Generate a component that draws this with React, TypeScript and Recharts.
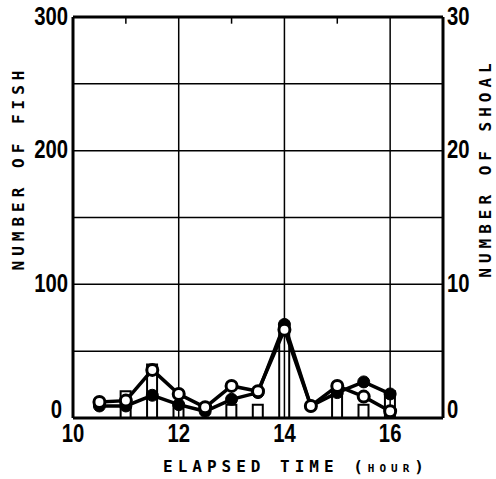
import React from "react";
import {
  ComposedChart,
  Bar,
  Line,
  XAxis,
  YAxis,
  ReferenceLine,
} from "recharts";

// half-hour sampling times
const hours = [10.5, 11, 11.5, 12, 12.5, 13, 13.5, 14, 14.5, 15, 15.5, 16];
// number of fish (open circles / filled circles), left axis
const fishOpen = [12, 13, 36, 18, 8, 24, 20, 66, 9, 24, 16, 5];
const fishFilled = [9, 9, 17, 10, 5, 14, 19, 70, 9, 19, 27, 18];
// number of shoals, right axis
const shoals = [0, 2, 4, 1, 0, 1, 1, 7, 0, 2, 1, 2];

const xTicks = [10, 12, 14, 16];
const fishTicks = [0, 100, 200, 300];
const shoalTicks = [0, 10, 20, 30];
const gridY = [50, 100, 150, 200, 250];
const gridX = [12, 14, 16];
const topTicks = [11, 13, 15];

const rows = hours.map((h, i) => ({
  hour: h,
  open: fishOpen[i],
  filled: fishFilled[i],
  shoal: shoals[i],
}));

// condensed bold numbers, squeezed horizontally; the "0" sits a bit higher
const makeTick = (dy: string, zeroLift = 0, zeroShift = 0) => (props: any) => {
  const { payload, textAnchor } = props;
  const isZero = payload.value === 0;
  const x = props.x + (isZero ? zeroShift : 0);
  const y = props.y - (isZero ? zeroLift : 0);
  return (
    <text
      x={x}
      y={y}
      dy={dy}
      textAnchor={textAnchor}
      fontFamily="'Liberation Sans', Arial, sans-serif"
      fontWeight={700}
      fontSize={26}
      fill="#000"
      transform={`translate(${x} ${y}) scale(0.78 1) translate(${-x} ${-y})`}
    >
      {payload.value}
    </text>
  );
};

const titleStyle: React.CSSProperties = {
  position: "absolute",
  fontFamily: "'DejaVu Sans Mono', monospace",
  fontWeight: 700,
  fontSize: 16,
  letterSpacing: 5,
  whiteSpace: "nowrap",
  color: "#000",
};

export default function App() {
  return (
    <div style={{ position: "absolute", left: 0, top: 0, width: 496, height: 479, background: "#fff" }}>
      <ComposedChart
        width={496}
        height={479}
        data={rows}
        margin={{ top: 17, right: 0, bottom: 0, left: 0 }}
      >
        <XAxis
          dataKey="hour"
          type="number"
          domain={[10, 17]}
          ticks={xTicks}
          height={61}
          tickLine={false}
          tickSize={0}
          tickMargin={6}
          axisLine={{ stroke: "#000", strokeWidth: 3 }}
          tick={makeTick("0.71em")}
        />
        <YAxis
          yAxisId="fish"
          domain={[0, 300]}
          ticks={fishTicks}
          width={73}
          tickLine={false}
          tickSize={0}
          tickMargin={5}
          axisLine={{ stroke: "#000", strokeWidth: 3 }}
          tick={makeTick("0.3em", 8, -6)}
        />
        <YAxis
          yAxisId="shoal"
          orientation="right"
          domain={[0, 30]}
          ticks={shoalTicks}
          width={53}
          tickLine={false}
          tickSize={0}
          tickMargin={4}
          axisLine={{ stroke: "#000", strokeWidth: 3 }}
          tick={makeTick("0.3em", 8, 0)}
        />
        {gridY.map((v) => (
          <ReferenceLine key={"gy" + v} yAxisId="fish" y={v} stroke="#000" strokeWidth={1.5} />
        ))}
        {gridX.map((v) => (
          <ReferenceLine key={"gx" + v} yAxisId="fish" x={v} stroke="#000" strokeWidth={1.5} />
        ))}
        <ReferenceLine yAxisId="fish" y={300} stroke="#000" strokeWidth={3} />
        {topTicks.map((v) => (
          <ReferenceLine
            key={"tt" + v}
            yAxisId="fish"
            segment={[{ x: v, y: 300 }, { x: v, y: 295 }]}
            stroke="#000"
            strokeWidth={1.5}
          />
        ))}
        <Bar
          yAxisId="shoal"
          dataKey="shoal"
          barSize={10}
          fill="#fff"
          stroke="#000"
          strokeWidth={2}
          isAnimationActive={false}
        />
        <Line
          yAxisId="fish"
          dataKey="filled"
          stroke="#000"
          strokeWidth={3.5}
          dot={{ r: 6, fill: "#000", stroke: "#000", strokeWidth: 1 }}
          isAnimationActive={false}
        />
        <Line
          yAxisId="fish"
          dataKey="open"
          stroke="#000"
          strokeWidth={3.5}
          dot={{ r: 5.5, fill: "#fff", stroke: "#000", strokeWidth: 3 }}
          isAnimationActive={false}
        />
      </ComposedChart>
      <div style={{ ...titleStyle, left: 18, top: 168, transform: "translate(-50%, -50%) rotate(-90deg)" }}>
        NUMBER OF FISH
      </div>
      <div style={{ ...titleStyle, left: 485, top: 168, transform: "translate(-50%, -50%) rotate(-90deg)" }}>
        NUMBER OF SHOAL
      </div>
      <div style={{ ...titleStyle, left: 296, top: 466, transform: "translate(-50%, -50%)" }}>
        ELAPSED TIME (<span style={{ fontSize: 11 }}>HOUR</span>)
      </div>
    </div>
  );
}
